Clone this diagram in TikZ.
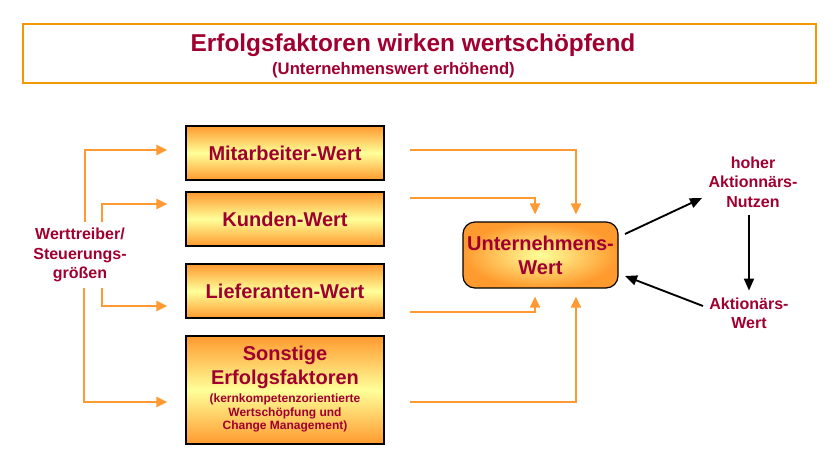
\documentclass[tikz,border=0pt]{standalone}
\usepackage{fontspec}
\setmainfont{Liberation Sans}
\usetikzlibrary{arrows.meta}
\definecolor{txtred}{HTML}{A00030}
\definecolor{oline}{HTML}{FF9933}
\definecolor{tborder}{HTML}{F39800}
\definecolor{boxor}{HTML}{FF9A2E}
\definecolor{boxyel}{HTML}{FFFF99}
\tikzset{
  x=0.75pt, y=-0.75pt,
  valbox/.style={draw=black, line width=0.9pt, top color=boxor, bottom color=boxor, middle color=boxyel,
    minimum width=148.5pt, text=txtred, font=\bfseries\fontsize{15}{18}\selectfont, align=center, inner sep=0pt},
  lbl/.style={text=txtred, font=\bfseries\fontsize{12}{14.5}\selectfont, align=center, inner sep=0pt},
  oarrow/.style={draw=oline, line width=1.6pt, -{Triangle[length=8.25pt,width=7.5pt]}},
  barrow/.style={draw=black, line width=1.4pt, -{Triangle[length=9pt,width=7.5pt]}},
}
\begin{document}
\begin{tikzpicture}
\useasboundingbox (0,0) rectangle (840,465);
% title
\node[draw=tborder, line width=2pt, minimum width=594.75pt, minimum height=44.25pt, inner sep=0pt] (tbox) at (419.5,53.5) {};
\node[text=txtred, font=\bfseries\fontsize{18.3}{20}\selectfont, inner sep=0pt] (title) at (413,45) {Erfolgsfaktoren wirken wertschöpfend};
\node[text=txtred, font=\bfseries\fontsize{12.5}{14}\selectfont, inner sep=0pt] (subtitle) at (393.5,70) {(Unternehmenswert erhöhend)};
% boxes
\node[valbox, minimum height=40.5pt] (mit) at (285,153) {Mitarbeiter-Wert};
\node[valbox, minimum height=40.5pt] (kun) at (285,219) {Kunden-Wert};
\node[valbox, minimum height=40.5pt] (lief) at (285,291) {Lieferanten-Wert};
\node[valbox, minimum height=81pt] (son) at (285,390) {};
\node[lbl, font=\bfseries\fontsize{15}{18}\selectfont] (son1) at (285,367) {Sonstige\\Erfolgsfaktoren};
\node[lbl, font=\bfseries\fontsize{9}{10.3}\selectfont] (son2) at (285,413) {(kernkompetenzorientierte\\Wertschöpfung und\\Change Management)};
% central box
\node[draw=black, line width=0.9pt, rounded corners=9pt, inner color=boxyel, outer color=boxor,
  minimum width=116.25pt, minimum height=49.5pt, text=txtred, font=\bfseries\fontsize{15}{18}\selectfont,
  align=center, inner sep=0pt] (uw) at (540.5,255) {Unternehmens-\\Wert};
% side texts
\node[lbl] (wt) at (80,255) {Werttreiber/\\Steuerungs-\\größen};
\node[lbl] (nutzen) at (753,182) {hoher\\Aktionnärs-\\Nutzen};
\node[lbl] (aw) at (749,313) {Aktionärs-\\Wert};
% left connectors
\coordinate (s1) at (85,222);
\coordinate (s2) at (102,222);
\coordinate (s3) at (102,288);
\coordinate (s4) at (84,288);
\draw[oarrow, shorten >=13.5pt] (s1) |- ([yshift=2.25pt]mit.west);
\draw[oarrow, shorten >=13.5pt] (s2) |- ([yshift=11.25pt]kun.west);
\draw[oarrow, shorten >=13.5pt] (s3) |- ([yshift=-11.25pt]lief.west);
\draw[oarrow, shorten >=13.5pt] (s4) |- ([yshift=-9pt]son.west);
% right connectors
\draw[oarrow, shorten <=18.75pt, shorten >=5.25pt] ([yshift=2.25pt]mit.east) -| ([xshift=26.6pt]uw.north);
\draw[oarrow, shorten <=18.75pt, shorten >=5.25pt] ([yshift=15.75pt]kun.east) -| ([xshift=-4.1pt]uw.north);
\draw[oarrow, shorten <=18.75pt, shorten >=6pt] ([yshift=-15.75pt]lief.east) -| ([xshift=-4.1pt]uw.south);
\draw[oarrow, shorten <=18.75pt, shorten >=6pt] ([yshift=-9pt]son.east) -| ([xshift=26.6pt]uw.south);
% black arrows
\coordinate (b1s) at (625,234);
\coordinate (b1e) at (702,198);
\coordinate (b2s) at (703,306);
\coordinate (b2e) at (625,276);
\draw[barrow] (b1s) -- (b1e);
\draw[barrow] ([yshift=-6pt]nutzen.south -| aw.north) -- ([yshift=5pt]aw.north);
\draw[barrow] (b2s) -- (b2e);
\end{tikzpicture}
\end{document}
